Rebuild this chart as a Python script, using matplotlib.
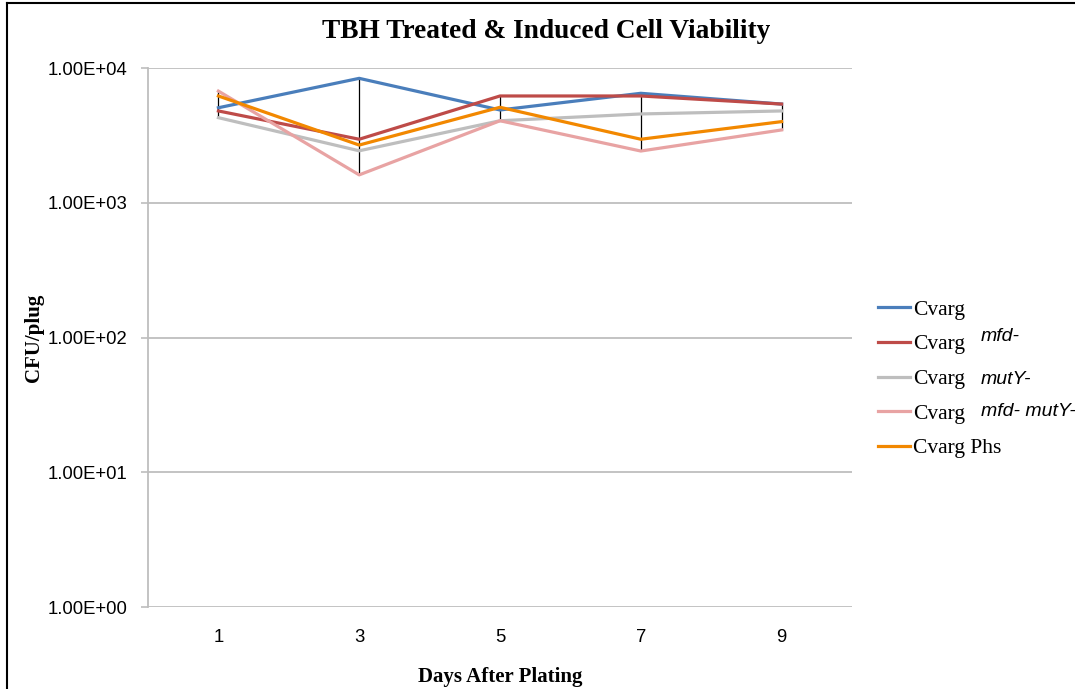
import matplotlib
matplotlib.use("Agg")
import matplotlib.pyplot as plt
from matplotlib.lines import Line2D
import numpy as np

# CFU per plug, one list per strain
days = ["1", "3", "5", "7", "9"]
cvarg = [5070, 8380, 4880, 6490, 5400]
cvarg_mfd = [4800, 2960, 6200, 6200, 5400]
cvarg_muty = [4280, 2430, 4060, 4560, 4800]
cvarg_mfd_muty = [6740, 1610, 4060, 2420, 3470]
cvarg_phs = [6200, 2680, 5110, 2960, 4000]

series = [cvarg, cvarg_mfd, cvarg_muty, cvarg_mfd_muty, cvarg_phs]
labels = ["Cvarg", "Cvarg", "Cvarg", "Cvarg", "Cvarg Phs"]
extra = ["", "mfd-", "mutY-", "mfd- mutY-", ""]
colors = ["#4a7ebb", "#be4b48", "#bebebe", "#e8a3a3", "#f28800"]

W, H = 1075, 689
fig = plt.figure(figsize=(W / 100, H / 100), dpi=100)
ax = fig.add_axes([148 / W, 1 - 607 / H, 704 / W, 539 / H])

x = np.arange(len(days))

# high-low lines between series at each day
allv = np.array(series)
ax.vlines(x, allv.min(axis=0), allv.max(axis=0), color="black", lw=0.9, zorder=2)

for vals, lab, c in zip(series, labels, colors):
    ax.plot(x, vals, color=c, lw=2.3, label=lab, zorder=3)

ax.set_yscale("log")
ax.set_ylim(1, 1e4)
ax.set_xlim(-0.5, len(days) - 0.5)
ax.set_yticks([1, 10, 100, 1000, 10000])
ax.set_yticklabels(["1.00E+00", "1.00E+01", "1.00E+02", "1.00E+03", "1.00E+04"],
                   fontfamily="Liberation Sans", fontsize=13.3)
ax.yaxis.set_minor_locator(matplotlib.ticker.NullLocator())
ax.set_xticks(x)
ax.set_xticklabels(days, fontfamily="Liberation Sans", fontsize=13.3)
ax.tick_params(axis="x", length=0, pad=16)
ax.tick_params(axis="y", length=5, width=1.2, color="#bebebe", pad=10)

ax.grid(axis="y", color="#bebebe", lw=1.3)
for s in ["top", "right", "bottom"]:
    ax.spines[s].set_visible(False)
ax.spines["left"].set_color("#bebebe")
ax.spines["left"].set_linewidth(1.3)

ax.set_ylabel("CFU/plug", fontfamily="Liberation Serif", fontweight="bold", fontsize=15)
ax.yaxis.set_label_coords(-0.148, 0.5)
ax.set_xlabel("Days After Plating", fontfamily="Liberation Serif", fontweight="bold", fontsize=15)
ax.xaxis.set_label_coords(0.5, -0.111)

fig.text(546 / W, 1 - 32 / H, "TBH Treated & Induced Cell Viability", ha="center", va="center",
         fontfamily="Liberation Serif", fontweight="bold", fontsize=19.7)

leg = ax.legend(loc="center left", bbox_to_anchor=(878 / W, 1 - 379 / H),
                bbox_transform=fig.transFigure, frameon=False,
                prop={"family": "Liberation Serif", "size": 15.5},
                handlelength=1.5, handletextpad=0.12, labelspacing=0.68, borderpad=0,
                borderaxespad=0)

# italic gene names next to legend entries
ys = [310, 337, 379, 412, 445]
for lab, yy in zip(extra, ys):
    if lab:
        fig.text(981 / W, 1 - yy / H, lab, ha="left", va="center",
                 fontfamily="Liberation Sans", style="italic", fontsize=14)

# outer frame (left and top edges)
fig.add_artist(Line2D([7 / W, 7 / W], [0, 1 - 3 / H], transform=fig.transFigure, color="black", lw=1.5))
fig.add_artist(Line2D([7 / W, 1], [1 - 3 / H, 1 - 3 / H], transform=fig.transFigure, color="black", lw=1.5))

fig.savefig("out.png", dpi=100)
